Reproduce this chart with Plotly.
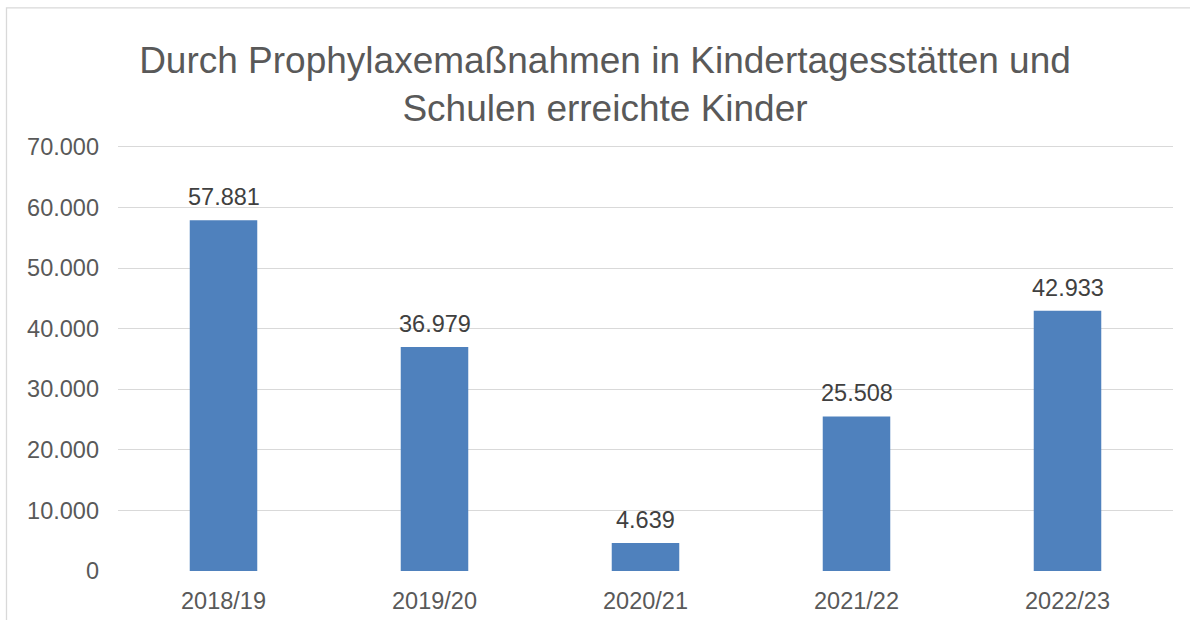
import plotly.graph_objects as go

categories = ["2018/19", "2019/20", "2020/21", "2021/22", "2022/23"]
values = [57881, 36979, 4639, 25508, 42933]
tick_vals = [0, 10000, 20000, 30000, 40000, 50000, 60000, 70000]

FONT = "Liberation Sans, Arial, sans-serif"
Y_MAX = 70800
PLOT_H = 424 * Y_MAX / 70000
TOP = 571 - PLOT_H

fig = go.Figure(go.Bar(
    x=categories, y=values,
    marker=dict(color="#4f81bd", line=dict(width=0)),
    width=0.32, hoverinfo="x+y",
))

annotations = [
    dict(x=c, y=v, xref="x", yref="y", text=f"{v:,}".replace(",", "."),
         showarrow=False, yanchor="bottom", xanchor="center", yshift=8,
         font=dict(family=FONT, size=23.5, color="#404040"))
    for c, v in zip(categories, values)
]

fig.update_layout(
    width=1190, height=620,
    margin=dict(l=118, r=17, t=TOP, b=49, autoexpand=False),
    paper_bgcolor="white", plot_bgcolor="white",
    separators=",.",
    showlegend=False,
    annotations=annotations,
    title=dict(
        text="Durch Prophylaxemaßnahmen in Kindertagesstätten und<br>Schulen erreichte Kinder",
        font=dict(family=FONT, size=37, color="#595959"),
        x=605 / 1190, xanchor="center", xref="container",
        y=1 - 72.5 / 620, yanchor="middle", yref="container",
    ),
    xaxis=dict(
        tickfont=dict(family=FONT, size=23.5, color="#595959"),
        showgrid=False, zeroline=False, showline=False, ticks="",
        ticklabelstandoff=13, automargin=False,
    ),
    yaxis=dict(
        range=[0, Y_MAX], tickvals=tick_vals, tickformat=",d",
        tickfont=dict(family=FONT, size=23.5, color="#595959"),
        showgrid=True, gridcolor="#d9d9d9", gridwidth=1.3,
        zeroline=False, showline=False, ticks="", ticklabelstandoff=18,
        automargin=False,
    ),
    shapes=[dict(
        type="rect", xref="paper", yref="paper",
        x0=(6.5 - 118) / 1055, x1=1.2, y0=-0.3, y1=(571 - 8) / PLOT_H,
        line=dict(color="#d9d9d9", width=1.3), fillcolor="rgba(0,0,0,0)",
        layer="below",
    )],
)

fig.write_html(
    "out.html",
    config={"displayModeBar": False},
    post_script="document.body.style.margin='0';window.dispatchEvent(new Event('resize'));",
)
